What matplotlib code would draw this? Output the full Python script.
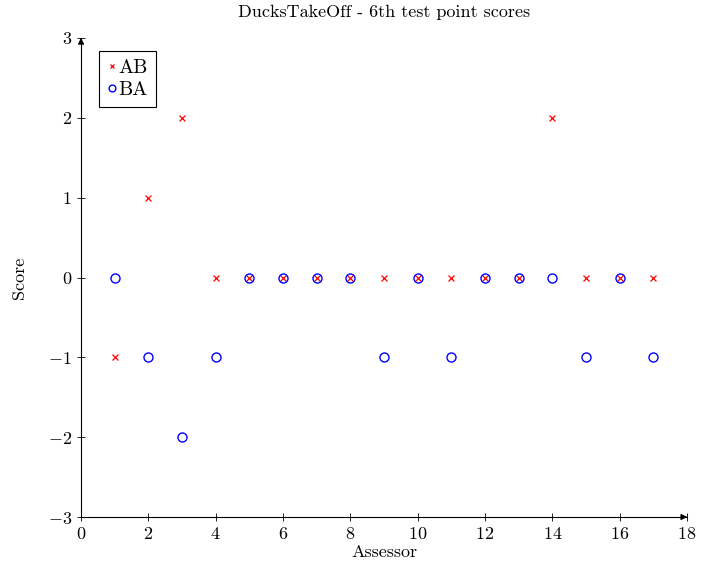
import matplotlib
matplotlib.use("Agg")
import matplotlib.pyplot as plt

plt.rcParams['font.family'] = 'serif'
plt.rcParams['font.serif'] = ['cmr10', 'DejaVu Serif']
plt.rcParams['mathtext.fontset'] = 'cm'
plt.rcParams['axes.formatter.use_mathtext'] = True

assessors = list(range(1, 18))
ab = [-1, 1, 2, 0, 0, 0, 0, 0, 0, 0, 0, 0, 0, 2, 0, 0, 0]
ba = [0, -1, -2, -1, 0, 0, 0, 0, -1, 0, -1, 0, 0, 0, -1, 0, -1]

fig = plt.figure(figsize=(7.01, 5.73), dpi=100)
ax = fig.add_axes([0.1156, 0.0977, 0.8644, 0.836])

ax.plot(assessors, ab, 'x', color='red', markersize=4, markeredgewidth=0.9, label='AB')
ax.plot(assessors, ba, 'o', color='blue', markerfacecolor='none', markersize=6.5,
        markeredgewidth=1.0, label='BA')

ax.set_xlim(0, 18)
ax.set_ylim(-3, 3)
ax.set_xticks(range(0, 19, 2))
ax.set_yticks(range(-3, 4))
ax.spines['top'].set_visible(False)
ax.spines['right'].set_visible(False)
ax.tick_params(direction='inout', length=6, width=0.6, labelsize=13)
# arrow heads at the axis ends
ax.annotate('', xy=(1.005, 0), xytext=(0.99, 0), xycoords='axes fraction',
            arrowprops=dict(arrowstyle='-|>', color='black', lw=0.8, mutation_scale=9))
ax.annotate('', xy=(0, 1.006), xytext=(0, 0.99), xycoords='axes fraction',
            arrowprops=dict(arrowstyle='-|>', color='black', lw=0.8, mutation_scale=9))

ax.set_xlabel('Assessor', fontsize=13, labelpad=2)
ax.set_ylabel('Score', fontsize=13, labelpad=15)
ax.set_title('DucksTakeOff - 6th test point scores', fontsize=13, pad=15)

leg = ax.legend(loc='upper left', bbox_to_anchor=(0.0297, 0.973), borderaxespad=0,
                fontsize=14.5, handletextpad=0.05, handlelength=0.5, borderpad=0.4,
                labelspacing=0.2, fancybox=False, edgecolor='black', framealpha=1,
                markerscale=0.75)
leg.get_frame().set_linewidth(0.8)

fig.savefig('out.png', dpi=100)
